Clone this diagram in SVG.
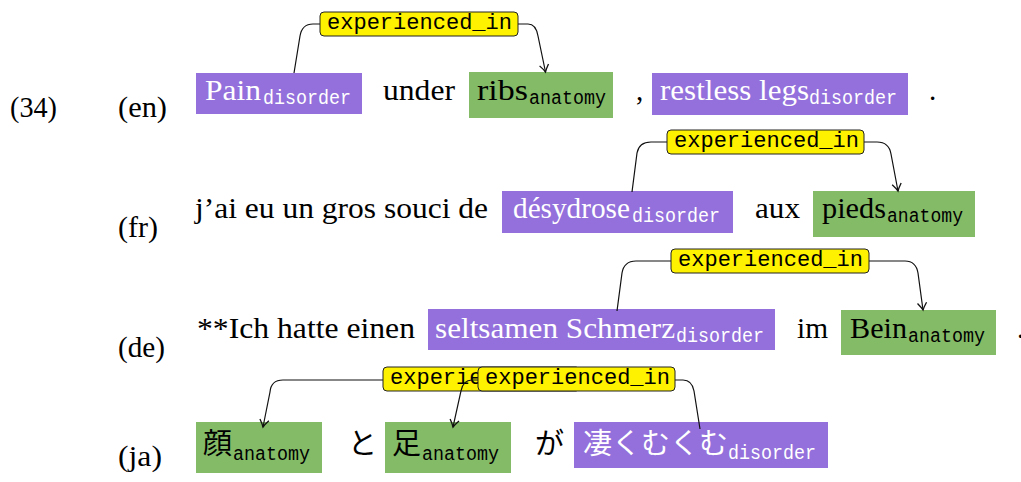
<svg xmlns="http://www.w3.org/2000/svg" width="1021" height="482" viewBox="0 0 1021 482">
<style>
.t{font-family:"Liberation Serif","DejaVu Serif",serif;font-size:29px;fill:#000}
.w{fill:#fff}
.s{font-family:"Liberation Mono","DejaVu Sans Mono",monospace;font-size:20px}
.lt{font-family:"Liberation Mono","DejaVu Sans Mono",monospace;font-size:22px;fill:#000}
.j{font-family:"Noto Sans CJK JP","Noto Sans CJK SC",sans-serif;font-size:29px}
.dis{fill:#9370DB}
.ana{fill:#84BB67}
.lab{fill:#FFF200;stroke:#222;stroke-width:1}
.c{fill:none;stroke:#111;stroke-width:1.2}
</style>
<defs>
<marker id="ah" markerUnits="userSpaceOnUse" markerWidth="12" markerHeight="12" viewBox="-7 -5 8 10" refX="0" refY="0" orient="auto">
<path d="M-6,-3.8 Q-2.2,-1 0,0 Q-2.2,1 -6,3.8" fill="none" stroke="#111" stroke-width="1.1"/>
</marker>
</defs>

<g id="margin">
<text class="t" x="10" y="117" textLength="47" lengthAdjust="spacingAndGlyphs">(34)</text>
<text class="t" x="118" y="117" textLength="49" lengthAdjust="spacingAndGlyphs">(en)</text>
<text class="t" x="118" y="237" textLength="40" lengthAdjust="spacingAndGlyphs">(fr)</text>
<text class="t" x="118" y="357" textLength="47" lengthAdjust="spacingAndGlyphs">(de)</text>
<text class="t" x="118" y="466" textLength="44" lengthAdjust="spacingAndGlyphs">(ja)</text>
</g>

<!-- en row -->
<g id="en-pain"><rect class="dis" x="196" y="73" width="166" height="41"/>
<text class="t w" x="205" y="100" textLength="56" lengthAdjust="spacingAndGlyphs">Pain</text><text class="s w" x="263" y="104" textLength="88" lengthAdjust="spacingAndGlyphs">disorder</text></g>
<g id="en-under"><text class="t" x="383" y="100" textLength="72" lengthAdjust="spacingAndGlyphs">under</text></g>
<g id="en-ribs"><rect class="ana" x="469" y="72" width="144" height="46"/>
<text class="t" x="477" y="100" textLength="51" lengthAdjust="spacingAndGlyphs">ribs</text><text class="s" x="529" y="104" textLength="77" lengthAdjust="spacingAndGlyphs">anatomy</text></g>
<g id="en-comma"><text class="t" x="636" y="100">,</text></g>
<g id="en-restless"><rect class="dis" x="652" y="73" width="256" height="42"/>
<text class="t w" x="660" y="100" textLength="149" lengthAdjust="spacingAndGlyphs">restless legs</text><text class="s w" x="809" y="104" textLength="88" lengthAdjust="spacingAndGlyphs">disorder</text></g>
<g id="en-period"><text class="t" x="929" y="100">.</text></g>

<!-- fr row -->
<g id="fr-pre"><text class="t" x="195" y="218" textLength="293" lengthAdjust="spacingAndGlyphs">j’ai eu un gros souci de</text></g>
<g id="fr-desydrose"><rect class="dis" x="502" y="191" width="231" height="42"/>
<text class="t w" x="513" y="218" textLength="117" lengthAdjust="spacingAndGlyphs">désydrose</text><text class="s w" x="632" y="222" textLength="88" lengthAdjust="spacingAndGlyphs">disorder</text></g>
<g id="fr-aux"><text class="t" x="755" y="218" textLength="45" lengthAdjust="spacingAndGlyphs">aux</text></g>
<g id="fr-pieds"><rect class="ana" x="813" y="191" width="162" height="46"/>
<text class="t" x="822" y="218" textLength="64" lengthAdjust="spacingAndGlyphs">pieds</text><text class="s" x="887" y="222" textLength="76" lengthAdjust="spacingAndGlyphs">anatomy</text></g>

<!-- de row -->
<g id="de-pre"><text class="t" x="197" y="338" textLength="218" lengthAdjust="spacingAndGlyphs">**Ich hatte einen</text></g>
<g id="de-schmerz"><rect class="dis" x="428" y="309" width="347" height="41"/>
<text class="t w" x="435" y="338" textLength="240" lengthAdjust="spacingAndGlyphs">seltsamen Schmerz</text><text class="s w" x="676" y="342" textLength="88" lengthAdjust="spacingAndGlyphs">disorder</text></g>
<g id="de-im"><text class="t" x="797" y="338" textLength="31" lengthAdjust="spacingAndGlyphs">im</text></g>
<g id="de-bein"><rect class="ana" x="841" y="310" width="155" height="45"/>
<text class="t" x="850" y="338" textLength="57" lengthAdjust="spacingAndGlyphs">Bein</text><text class="s" x="908" y="342" textLength="77" lengthAdjust="spacingAndGlyphs">anatomy</text></g>
<g id="de-period"><text class="t" x="1017" y="338">.</text></g>

<!-- ja row -->
<g id="ja-kao"><rect class="ana" x="196" y="422" width="126" height="51"/>
<text class="j" x="203" y="454">顔</text><text class="s" x="233" y="460" textLength="77" lengthAdjust="spacingAndGlyphs">anatomy</text></g>
<g id="ja-to"><text class="j" x="348" y="454">と</text></g>
<g id="ja-ashi"><rect class="ana" x="385" y="422" width="126" height="51"/>
<text class="j" x="392" y="454">足</text><text class="s" x="422" y="460" textLength="77" lengthAdjust="spacingAndGlyphs">anatomy</text></g>
<g id="ja-ga"><text class="j" x="535" y="454">が</text></g>
<g id="ja-mukumu"><rect class="dis" x="574" y="422" width="254" height="46"/>
<text class="j w" x="583" y="454">凄くむくむ</text><text class="s w" x="728" y="459" textLength="88" lengthAdjust="spacingAndGlyphs">disorder</text></g>

<g id="connectors">
<path class="c" d="M294,73 L300,36 Q302,24 313,24 L320,24"/>
<path class="c" d="M518,24 L528,24 Q536,24 538,36 L545.5,72" marker-end="url(#ah)"/>
<path class="c" d="M632,192 L637,153 Q639,142 651,142 L667,142"/>
<path class="c" d="M864,142 L877,142 Q889,142 891,154 L898,191" marker-end="url(#ah)"/>
<path class="c" d="M617,311 L622,273 Q624,261 636,261 L671,261"/>
<path class="c" d="M869,261 L905,261 Q916,261 918,273 L923,310" marker-end="url(#ah)"/>
<path class="c" d="M383,380 L283,380 Q271,380 270,392 L263,427" marker-end="url(#ah)"/>
<path class="c" d="M700,429 L694,391 Q692,380 683,380 L675,380"/>
</g>

<g id="label-en"><rect class="lab" x="320" y="12" width="198" height="24" rx="4"/>
<text class="lt" x="327" y="29" textLength="185" lengthAdjust="spacingAndGlyphs">experienced_in</text></g>
<g id="label-fr"><rect class="lab" x="667" y="130" width="197" height="24" rx="4"/>
<text class="lt" x="674" y="147" textLength="185" lengthAdjust="spacingAndGlyphs">experienced_in</text></g>
<g id="label-de"><rect class="lab" x="671" y="249" width="198" height="24" rx="4"/>
<text class="lt" x="678" y="266" textLength="185" lengthAdjust="spacingAndGlyphs">experienced_in</text></g>
<g id="label-ja1"><rect class="lab" x="383" y="367" width="197" height="24" rx="4"/>
<text class="lt" x="390" y="384" textLength="185" lengthAdjust="spacingAndGlyphs">experienced_in</text></g>
<path class="c" d="M478,380 L472,380 Q463,380 461,391 L453,427" marker-end="url(#ah)"/>
<g id="label-ja2"><rect class="lab" x="478" y="367" width="197" height="24" rx="4"/>
<text class="lt" x="485" y="384" textLength="185" lengthAdjust="spacingAndGlyphs">experienced_in</text></g>
</svg>
